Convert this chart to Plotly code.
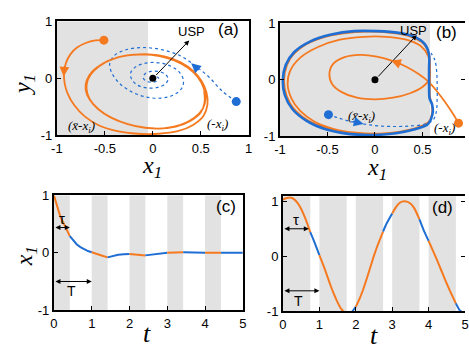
import plotly.graph_objects as go

ORANGE = "#F5791F"
BLUE = "#1F6ED4"
SHADE = "#E2E2E2"

# ---------------- data ----------------
# Panel (a): phase portrait
a_orange_x = [-0.51, -0.60, -0.70, -0.79, -0.86, -0.905, -0.925, -0.92, -0.89, -0.82, -0.71, -0.56, -0.37, -0.16,
              0.06, 0.26, 0.42, 0.53, 0.57, 0.56, 0.51, 0.42, 0.29, 0.13, -0.04, -0.21, -0.38, -0.52, -0.63,
              -0.69, -0.70, -0.66, -0.57, -0.44, -0.27, -0.08, 0.11, 0.29, 0.43, 0.52, 0.55, 0.53, 0.47, 0.37,
              0.23, 0.07, -0.10, -0.27, -0.43, -0.56, -0.65, -0.69, -0.68, -0.62, -0.50, -0.34, -0.15, 0.05,
              0.24, 0.39, 0.50, 0.54, 0.535]
a_orange_y = [0.67, 0.665, 0.62, 0.54, 0.42, 0.27, 0.10, -0.08, -0.26, -0.47, -0.67, -0.83, -0.93, -0.975,
              -0.975, -0.93, -0.82, -0.66, -0.46, -0.25, -0.05, 0.13, 0.28, 0.38, 0.42, 0.41, 0.36, 0.26, 0.12,
              -0.04, -0.20, -0.37, -0.54, -0.69, -0.80, -0.87, -0.88, -0.82, -0.70, -0.54, -0.36, -0.17, 0.02,
              0.18, 0.31, 0.39, 0.42, 0.40, 0.33, 0.21, 0.06, -0.11, -0.28, -0.46, -0.63, -0.76, -0.85, -0.885,
              -0.85, -0.75, -0.60, -0.42, -0.23]
a_blue_x = [0.87, 0.72, 0.58, 0.43, 0.28, 0.10, -0.10, -0.28, -0.40, -0.45, -0.42, -0.34, -0.22, -0.07, 0.08,
            0.21, 0.30, 0.32, 0.28, 0.19, 0.07, -0.06, -0.17, -0.23, -0.22, -0.16, -0.06, 0.05, 0.13, 0.16,
            0.13, 0.06, -0.02, -0.08, -0.10, -0.07, -0.01, 0.04, 0.06, 0.03, 0.0]
a_blue_y = [-0.41, -0.22, 0.03, 0.235, 0.40, 0.50, 0.54, 0.50, 0.40, 0.25, 0.07, -0.10, -0.24, -0.33, -0.35,
            -0.30, -0.18, -0.04, 0.10, 0.21, 0.27, 0.27, 0.21, 0.10, -0.02, -0.12, -0.17, -0.16, -0.10, -0.01,
            0.07, 0.12, 0.12, 0.08, 0.01, -0.05, -0.07, -0.05, 0.00, 0.03, 0.0]
a_switch = -0.05

# Panel (b): phase portrait
b_orange_x = [0.88, 0.82, 0.74, 0.65, 0.56, 0.46, 0.33, 0.19, 0.02, -0.16, -0.32, -0.44, -0.48, -0.45, -0.35,
              -0.19, 0.00, 0.19, 0.37, 0.50, 0.57, 0.58, 0.56, 0.48, 0.33, 0.12, -0.12, -0.37, -0.60, -0.78,
              -0.89, -0.92, -0.88, -0.79, -0.64, -0.44, -0.20, 0.05, 0.28, 0.46, 0.57, 0.60, 0.60, 0.58, 0.58,
              0.58, 0.57, 0.51, 0.38, 0.17, -0.08, -0.33, -0.56, -0.76, -0.89, -0.95, -0.95, -0.89, -0.76,
              -0.57, -0.34, -0.09, 0.16, 0.38, 0.54]
b_orange_y = [-0.77, -0.60, -0.40, -0.20, -0.03, 0.10, 0.23, 0.33, 0.41, 0.44, 0.40, 0.28, 0.10, -0.08, -0.22,
              -0.32, -0.35, -0.32, -0.24, -0.13, 0.00, 0.20, 0.42, 0.60, 0.71, 0.76, 0.76, 0.71, 0.58, 0.40,
              0.17, -0.08, -0.33, -0.55, -0.74, -0.87, -0.94, -0.955, -0.92, -0.84, -0.74, -0.60, -0.45, -0.30,
              0.0, 0.25, 0.45, 0.64, 0.76, 0.83, 0.85, 0.82, 0.74, 0.59, 0.38, 0.12, -0.16, -0.43, -0.66,
              -0.83, -0.93, -0.965, -0.945, -0.88, -0.79]
b_blue_dash_x = [-0.49, -0.40, -0.28, -0.12, 0.05, 0.22, 0.38, 0.52, 0.61, 0.645, 0.655, 0.655, 0.65, 0.63, 0.59]
b_blue_dash_y = [-0.62, -0.67, -0.73, -0.785, -0.82, -0.83, -0.82, -0.79, -0.72, -0.58, -0.35, -0.10, 0.15,
                 0.35, 0.47]
b_blue_loop_x = [0.57, 0.53, 0.43, 0.25, 0.02, -0.22, -0.46, -0.68, -0.85, -0.94, -0.97, -0.95, -0.87, -0.72,
                 -0.52, -0.28, -0.03, 0.22, 0.42, 0.55, 0.59, 0.61, 0.60, 0.575, 0.57, 0.57, 0.57]
b_blue_loop_y = [0.44, 0.62, 0.75, 0.83, 0.86, 0.86, 0.80, 0.68, 0.49, 0.26, 0.0, -0.27, -0.52, -0.73, -0.88,
                 -0.96, -0.98, -0.95, -0.88, -0.80, -0.70, -0.56, -0.43, -0.33, -0.10, 0.20, 0.44]
b_switch = 0.58

# Panel (c): time series
c_t = [0.00, 0.05, 0.10, 0.15, 0.20, 0.30, 0.42, 0.50, 0.60, 0.70, 0.80, 0.90, 1.00, 1.10, 1.20, 1.30, 1.42,
       1.55, 1.70, 1.85, 2.00, 2.20, 2.42, 2.60, 2.80, 3.00, 3.20, 3.42, 3.70, 4.00, 4.42, 4.70, 5.00]
c_x = [1.00, 0.88, 0.77, 0.67, 0.59, 0.44, 0.29, 0.22, 0.15, 0.10, 0.06, 0.03, 0.01, -0.015, -0.035, -0.055,
       -0.08, -0.055, -0.035, -0.025, -0.02, -0.03, -0.045, -0.03, -0.01, 0.00, 0.01, 0.01, 0.005, 0.00, 0.00,
       0.00, 0.00]
c_tau = 0.42

# Panel (d): time series
d_t = [0.00, 0.10, 0.20, 0.30, 0.40, 0.50, 0.60, 0.75, 0.85, 1.00, 1.10, 1.20, 1.30, 1.40, 1.50, 1.60, 1.70,
       1.75, 1.85, 2.00, 2.10, 2.20, 2.30, 2.40, 2.50, 2.60, 2.75, 2.85, 3.00, 3.10, 3.20, 3.35, 3.50, 3.60,
       3.75, 3.85, 4.00, 4.10, 4.20, 4.30, 4.40, 4.50, 4.60, 4.75, 4.85, 5.00]
d_x = [1.03, 1.06, 1.07, 1.04, 0.97, 0.86, 0.71, 0.44, 0.28, 0.02, -0.15, -0.33, -0.52, -0.69, -0.84, -0.96,
       -1.03, -1.05, -1.04, -0.92, -0.78, -0.61, -0.41, -0.20, 0.01, 0.20, 0.45, 0.60, 0.78, 0.89, 0.97, 1.00,
       0.96, 0.88, 0.67, 0.50, 0.28, 0.13, -0.02, -0.18, -0.34, -0.50, -0.65, -0.86, -0.98, -1.06]
d_tau = 0.75
period = 1.0

xy_ticks = [-1, -0.5, 0, 0.5, 1]
xy_ticktext = ["-1", "-0.5", "0", "0.5", "1"]
y_ticks = [-1, 0, 1]
y_ticktext = ["-1", "0", "1"]
t_ticks = [0, 1, 2, 3, 4, 5]
t_ticktext = ["0", "1", "2", "3", "4", "5"]

W, H = 469, 344


def px_x(p):
    return p / W


def px_y(p):
    return 1 - p / H


def segments(t, x, tau, per):
    segs = []
    start = t[0]
    tmax = t[-1]
    while start < tmax - 1e-9:
        k0 = int(start // per + 1e-9)
        ph = start - k0 * per
        if ph < tau - 1e-6:
            end, col = k0 * per + tau, ORANGE
        else:
            end, col = (k0 + 1) * per, BLUE
        end = min(end, tmax)
        idx = [i for i in range(len(t)) if start - 1e-9 <= t[i] <= end + 1e-9]
        segs.append((col, [t[i] for i in idx], [x[i] for i in idx]))
        start = end
    return segs


fig = go.Figure()

# ---- panel (a)
fig.add_trace(go.Scatter(x=a_blue_x, y=a_blue_y, mode="lines", line=dict(color=BLUE, width=1.2, dash="3px,3px",
                         shape="spline", smoothing=1.0), xaxis="x", yaxis="y"))
fig.add_trace(go.Scatter(x=a_orange_x, y=a_orange_y, mode="lines", line=dict(color=ORANGE, width=1.8,
                         shape="spline", smoothing=1.0), xaxis="x", yaxis="y"))
fig.add_trace(go.Scatter(x=[a_orange_x[0]], y=[a_orange_y[0]], mode="markers",
                         marker=dict(color=ORANGE, size=9), xaxis="x", yaxis="y"))
fig.add_trace(go.Scatter(x=[a_blue_x[0]], y=[a_blue_y[0]], mode="markers",
                         marker=dict(color=BLUE, size=9), xaxis="x", yaxis="y", cliponaxis=False))
fig.add_trace(go.Scatter(x=[0], y=[0], mode="markers", marker=dict(color="black", size=7), xaxis="x", yaxis="y"))

# ---- panel (b)
fig.add_trace(go.Scatter(x=b_orange_x, y=b_orange_y, mode="lines", line=dict(color=ORANGE, width=1.8,
                         shape="spline", smoothing=1.0), xaxis="x2", yaxis="y2"))
fig.add_trace(go.Scatter(x=b_blue_dash_x, y=b_blue_dash_y, mode="lines", line=dict(color=BLUE, width=1.2,
                         dash="3px,3px", shape="spline", smoothing=1.0), xaxis="x2", yaxis="y2"))
fig.add_trace(go.Scatter(x=b_blue_loop_x, y=b_blue_loop_y, mode="lines", line=dict(color=BLUE, width=2.6,
                         shape="spline", smoothing=0.8), xaxis="x2", yaxis="y2"))
fig.add_trace(go.Scatter(x=[b_orange_x[0]], y=[b_orange_y[0]], mode="markers",
                         marker=dict(color=ORANGE, size=9), xaxis="x2", yaxis="y2"))
fig.add_trace(go.Scatter(x=[b_blue_dash_x[0]], y=[b_blue_dash_y[0]], mode="markers",
                         marker=dict(color=BLUE, size=9), xaxis="x2", yaxis="y2"))
fig.add_trace(go.Scatter(x=[0], y=[0], mode="markers", marker=dict(color="black", size=7), xaxis="x2", yaxis="y2"))

# ---- panel (c)
for col, tt, xx in segments(c_t, c_x, c_tau, period):
    fig.add_trace(go.Scatter(x=tt, y=xx, mode="lines", line=dict(color=col, width=2), xaxis="x3", yaxis="y3"))

# ---- panel (d)
for col, tt, xx in segments(d_t, d_x, d_tau, period):
    fig.add_trace(go.Scatter(x=tt, y=xx, mode="lines", line=dict(color=col, width=2, shape="spline",
                             smoothing=0.8), xaxis="x4", yaxis="y4"))

# dummy traces for right-side tick axes
fig.add_trace(go.Scatter(x=[None], y=[None], xaxis="x2", yaxis="y5", showlegend=False))
fig.add_trace(go.Scatter(x=[None], y=[None], xaxis="x4", yaxis="y6", showlegend=False))

# ---- shading
shapes = []
shapes.append(dict(type="rect", xref="x", yref="y", x0=-1, x1=a_switch, y0=-1, y1=1, fillcolor=SHADE,
                   line=dict(width=0), layer="below"))
shapes.append(dict(type="rect", xref="x2", yref="y2", x0=-1, x1=b_switch, y0=-1, y1=1, fillcolor=SHADE,
                   line=dict(width=0), layer="below"))
for k in range(5):
    shapes.append(dict(type="rect", xref="x3", yref="y3 domain", x0=k * period, x1=k * period + c_tau, y0=0, y1=1,
                       fillcolor=SHADE, line=dict(width=0), layer="below"))
    shapes.append(dict(type="rect", xref="x4", yref="y4 domain", x0=k * period, x1=k * period + d_tau, y0=0, y1=1,
                       fillcolor=SHADE, line=dict(width=0), layer="below"))

# ---- axes
tickfont = dict(family="Liberation Sans, Arial, sans-serif", size=13, color="black")
base = dict(showline=True, linecolor="black", linewidth=2, mirror=True, ticks="inside", ticklen=4, tickwidth=1,
            tickcolor="black", showgrid=False, zeroline=False, tickfont=tickfont, fixedrange=True)

layout_axes = dict(
    xaxis=dict(base, domain=[px_x(52), px_x(248)], range=[-1, 1], tickvals=xy_ticks, ticktext=xy_ticktext,
               anchor="y"),
    yaxis=dict(base, domain=[px_y(134), px_y(15)], range=[-1, 1], tickvals=y_ticks, ticktext=y_ticktext,
               anchor="x"),
    xaxis2=dict(base, domain=[px_x(280), 1], range=[-1, (469 - 377) / 97.0], tickvals=xy_ticks,
                ticktext=xy_ticktext, anchor="y2"),
    yaxis2=dict(base, mirror=False, domain=[px_y(135), px_y(17)], range=[-1, 1], tickvals=y_ticks,
                ticktext=y_ticktext, anchor="x2"),
    xaxis3=dict(base, domain=[px_x(49), px_x(242)], range=[0, 5], tickvals=t_ticks, ticktext=t_ticktext,
                anchor="y3"),
    yaxis3=dict(base, domain=[px_y(317), px_y(197)], range=[-1, 1], tickvals=y_ticks, ticktext=y_ticktext,
                anchor="x3"),
    xaxis4=dict(base, domain=[px_x(283), 1], range=[0, 5], tickvals=t_ticks, ticktext=t_ticktext, anchor="y4"),
    yaxis4=dict(base, mirror=False, domain=[px_y(318), px_y(198)], range=[-1, 1.09], tickvals=y_ticks,
                ticktext=y_ticktext, anchor="x4"),
    yaxis5=dict(overlaying="y2", side="right", anchor="x2", range=[-1, 1], tickvals=y_ticks, ticks="inside",
                ticklen=4, tickwidth=1, tickcolor="black", showticklabels=False, showline=False, showgrid=False,
                zeroline=False, fixedrange=True),
    yaxis6=dict(overlaying="y4", side="right", anchor="x4", range=[-1, 1.09], tickvals=y_ticks, ticks="inside",
                ticklen=4, tickwidth=1, tickcolor="black", showticklabels=False, showline=False, showgrid=False,
                zeroline=False, fixedrange=True),
)

# ---- annotations
serif = "Liberation Serif, Times New Roman, serif"
sans = "Liberation Sans, Arial, sans-serif"
ann = []


def txt(text, x, y, xref, yref, size, family, angle=0):
    ann.append(dict(text=text, x=x, y=y, xref=xref, yref=yref, showarrow=False, textangle=angle,
                    font=dict(size=size, family=family, color="black"), xanchor="center", yanchor="middle"))


def head(x, y, xref, yref, color, ax, ay):
    ann.append(dict(text="", x=x, y=y, xref=xref, yref=yref, ax=ax, ay=ay, showarrow=True, arrowhead=2,
                    arrowsize=1.3, arrowwidth=1.5, arrowcolor=color))


def link(x0, y0, x1, y1, xref, yref, both=False):
    ann.append(dict(text="", x=x1, y=y1, ax=x0, ay=y0, xref=xref, yref=yref, axref=xref, ayref=yref,
                    showarrow=True, arrowhead=2, arrowsize=1, arrowwidth=1, arrowcolor="black",
                    arrowside="end+start" if both else "end"))


# panel (a)
txt("(a)", 0.79, 0.85, "x", "y", 17, sans)
txt("USP", 0.40, 0.82, "x", "y", 13, sans)
link(0.02, 0.03, 0.38, 0.665, "x", "y")
txt("<i>(x̄-x<sub>i</sub>)</i>", -0.74, -0.84, "x", "y", 13, serif)
txt("<i>(-x<sub>i</sub>)</i>", 0.67, -0.81, "x", "y", 13, serif)
head(-0.93, 0.03, "x", "y", ORANGE, 1, -12)
head(0.40, 0.265, "x", "y", BLUE, 9, 8)

# panel (b)
txt("(b)", 0.75, 0.83, "x2", "y2", 17, sans)
txt("USP", 0.41, 0.87, "x2", "y2", 13, sans)
link(0.02, 0.03, 0.44, 0.79, "x2", "y2")
txt("<i>(x̄-x<sub>i</sub>)</i>", -0.14, -0.65, "x2", "y2", 13, serif)
txt("<i>(-x<sub>i</sub>)</i>", 0.73, -0.87, "x2", "y2", 13, serif)
head(0.17, 0.34, "x2", "y2", ORANGE, 11, 4)
head(-0.12, -0.785, "x2", "y2", BLUE, -12, -3)

# panel (c)
txt("(c)", 4.56, 0.8, "x3", "y3", 17, sans)
link(0, 0.44, c_tau, 0.44, "x3", "y3", both=True)
txt("τ", 0.22, 0.59, "x3", "y3", 15, sans)
link(0, -0.5, period, -0.5, "x3", "y3", both=True)
txt("T", 0.47, -0.67, "x3", "y3", 14, sans)

# panel (d)
txt("(d)", 4.38, 0.88, "x4", "y4", 17, sans)
link(0, 0.5, d_tau - 0.04, 0.5, "x4", "y4", both=True)
txt("τ", 0.37, 0.66, "x4", "y4", 15, sans)
link(0, -0.63, period, -0.63, "x4", "y4", both=True)
txt("T", 0.42, -0.82, "x4", "y4", 14, sans)

# axis titles
txt("<i>x</i><sub><i>1</i></sub>", px_x(149), px_y(167), "paper", "paper", 24, serif)
txt("<i>x</i><sub><i>1</i></sub>", px_x(379), px_y(169), "paper", "paper", 24, serif)
txt("<i>y</i><sub><i>1</i></sub>", px_x(19), px_y(81), "paper", "paper", 24, serif, -90)
txt("<i>x</i><sub><i>1</i></sub>", px_x(20), px_y(261), "paper", "paper", 24, serif, -90)
txt("<i>t</i>", px_x(144), px_y(341), "paper", "paper", 26, serif)
txt("<i>t</i>", px_x(376), px_y(343), "paper", "paper", 26, serif)

fig.update_layout(width=W, height=H, margin=dict(l=0, r=0, t=0, b=0), paper_bgcolor="white",
                  plot_bgcolor="white", showlegend=False, shapes=shapes, annotations=ann, **layout_axes)

fig.write_html("out.html")
